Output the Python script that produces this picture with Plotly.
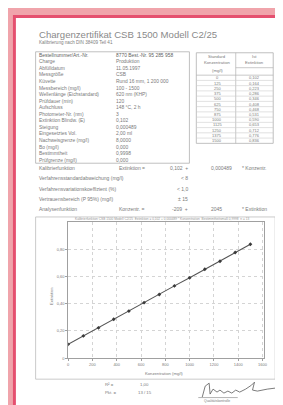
import plotly.graph_objects as go

W, H = 283, 405

# ---------------- data ----------------
konzentration = [0, 125, 250, 375, 500, 625, 750, 875, 1000, 1125, 1250, 1375, 1500]
extinktion = [0.102, 0.164, 0.223, 0.286, 0.346, 0.408, 0.468, 0.531, 0.590, 0.653, 0.712, 0.776, 0.836]
x_ticks = [0, 200, 400, 600, 800, 1000, 1200, 1400, 1600]
y_ticks = [0, 0.2, 0.4, 0.6, 0.8]
y_ticktext = ["0", "0,20", "0,40", "0,60", "0,80"]

info_labels = ["Bestellnummer/Art.-Nr.", "Charge", "Abfülldatum", "Messgröße", "Küvette",
               "Messbereich (mg/l)", "Wellenlänge (Eichstandard)", "Prüfdauer (min)", "Aufschluss",
               "Photometer-Nr. (nm)", "Extinktion Blindw. (E)", "Steigung", "Eingesetztes Vol.",
               "Nachweisgrenze (mg/l)", "Bo (mg/l)", "Bestimmtheit", "Prüfgrenze (mg/l)"]
info_values = ["8770 Best.-Nr. 95 285 958", "Produktion", "11.05.1997", "CSB",
               "Rund 16 mm, 1 200 000", "100 - 1500", "620 nm (KHP)", "120",
               "148 °C, 2 h", "3", "0,102", "0,000489", "2,00 ml", "8,0000", "0,000",
               "0,9998", "0,000"]

calib_rows = [
    ["Kalibrierfunktion", "Extinktion =", "0,102  +", "0,000489", "* Konzentr."],
    ["Verfahrensstandardabweichung (mg/l)", "", "< 8", "", ""],
    ["Verfahrensvariationskoeffizient (%)", "", "< 1,0", "", ""],
    ["Vertrauensbereich (P 95%) (mg/l)", "", "± 15", "", ""],
    ["Analysenfunktion", "Konzentr. =", "-209  +", "2045", "* Extinktion"],
]

# ---------------- helpers ----------------
def X(p):
    return p / W

def Y(p):
    return 1 - p / H

GREY = "#7a7a7a"
annotations = []
shapes = []

def txt(x, y, s, size=5.0, color=GREY, anchor="left", angle=0):
    annotations.append(dict(x=X(x), y=Y(y), xref="paper", yref="paper", text=s,
                            showarrow=False, xanchor=anchor, yanchor="middle",
                            textangle=angle,
                            font=dict(size=size, color=color, family="Liberation Sans")))

def rect(x0, y0, x1, y1, fill=None, line="#9a9a9a", lw=0.8, layer="below"):
    shapes.append(dict(type="rect", xref="paper", yref="paper",
                       x0=X(x0), x1=X(x1), y0=Y(y1), y1=Y(y0),
                       fillcolor=fill if fill else "rgba(0,0,0,0)",
                       line=dict(color=line, width=lw), layer=layer))

def hline(x0, x1, y, color="#b0b0b0", lw=0.7):
    shapes.append(dict(type="line", xref="paper", yref="paper", x0=X(x0), x1=X(x1),
                       y0=Y(y), y1=Y(y), line=dict(color=color, width=lw), layer="below"))

def vline(x, y0, y1, color="#b0b0b0", lw=0.7):
    shapes.append(dict(type="line", xref="paper", yref="paper", x0=X(x), x1=X(x),
                       y0=Y(y0), y1=Y(y1), line=dict(color=color, width=lw), layer="below"))

# ---------------- page ----------------
rect(4, 7, W + 10, H + 10, fill="#e5506f", line="#e5506f", lw=0)
rect(7, 10, W + 10, H + 10, fill="#ffffff", line="#ffffff", lw=0)

# title
txt(28, 27, "Chargenzertifikat CSB 1500 Modell C2/25", size=9.6, color="#8a8a8a")
txt(28, 35, "Kalibrierung nach DIN 38409 Teil 41", size=4.6, color="#7e7e7e")

# left info table
rect(27, 44, 183, 156, line="#b0b0b0", lw=0.8)
n = len(info_labels)
for i in range(n):
    yy = 47.5 + i * (153 - 47.5) / (n - 1)
    c = "#606060" if i == 0 else GREY
    txt(28.5, yy, info_labels[i], size=4.9, color=c)
    txt(106.5, yy, info_values[i], size=4.9, color=c)

# right standard table
rect(190, 45, 268, 136, line="#b0b0b0", lw=0.8)
vline(230, 45, 136, color="#b0b0b0")
hline(190, 268, 67.5, color="#b0b0b0")
txt(211, 49, "Standard", size=4.2, anchor="center")
txt(211, 55, "Konzentration", size=4.2, anchor="center")
txt(211, 63, "(mg/l)", size=4.2, anchor="center")
txt(249, 49, "Ist", size=4.2, anchor="center")
txt(249, 55, "Extinktion", size=4.2, anchor="center")
hline(230, 268, 60, color="#b0b0b0")
nrow = len(konzentration)
rh = (136 - 67.5) / nrow
for i in range(nrow):
    yc = 67.5 + (i + 0.5) * rh
    if i > 0:
        hline(190, 268, 67.5 + i * rh, color="#cccccc", lw=0.6)
    txt(211, yc, str(konzentration[i]), size=4.0, anchor="center")
    txt(249, yc, ("%.3f" % extinktion[i]).replace(".", ","), size=4.0, anchor="center")

# calibration text block
cols = [28, 110, 184, 203, 234]
for r, row in enumerate(calib_rows):
    yy = 161 + r * 10.2
    for c, s in enumerate(row):
        if not s:
            continue
        if c == 2:
            txt(cols[c], yy, s, size=5.0, anchor="right")
        else:
            txt(cols[c], yy, s, size=5.0)

# chart frame
rect(27, 210, 270, 373, line="#bcbcbc", lw=0.8)
txt(155, 212, "Kalibrierfunktion CSB 1500 Modell C2/25  Extinktion = 0,102 + 0,000489 * Konzentration  "
              "Bestimmtheitsmaß 0,9998  n = 13", size=3.2, color="#959595", anchor="center")
txt(43, 290, "Extinktion", size=4.0, anchor="center", angle=-90)
txt(157, 367, "Konzentration (mg/l)", size=4.2, anchor="center")

# bottom notes
txt(95, 378, "R² =", size=4.3)
txt(131, 378, "1,00", size=4.3)
txt(95, 386, "Pkt. =", size=4.3)
txt(129, 386, "13 / 15", size=4.3)

# signature (decorative path)
sig = [(196, 391), (199, 380), (203, 377), (204, 388), (207, 383), (211, 386), (214, 384),
       (218, 387), (222, 385), (226, 387), (230, 384), (234, 386), (240, 383), (246, 379),
       (249, 376), (247, 384), (252, 385), (262, 383), (270, 382)]
path = "M " + " L ".join("%.4f,%.4f" % (X(a), Y(b)) for a, b in sig)
shapes.append(dict(type="path", xref="paper", yref="paper", path=path,
                   line=dict(color="#5a5a5a", width=0.8), layer="above"))
hline(192, 232, 391.5, color="#808080", lw=0.6)
txt(211, 395, "Qualitätskontrolle", size=3.4, anchor="center", color="#7a7a7a")

# ---------------- figure ----------------
fig = go.Figure()
fig.add_trace(go.Scatter(
    x=konzentration, y=extinktion, mode="lines+markers",
    line=dict(color="#555555", width=1.1),
    marker=dict(symbol="diamond", size=3, color="#3a3a3a"),
    showlegend=False, hoverinfo="skip"))

fig.update_layout(
    width=W, height=H, autosize=False,
    margin=dict(l=0, r=0, t=0, b=0),
    paper_bgcolor="#f0a4ab", plot_bgcolor="#ffffff",
    shapes=shapes, annotations=annotations,
    xaxis=dict(domain=[X(60), X(259)], range=[0, 1615], tickvals=x_ticks,
               ticktext=[str(v) for v in x_ticks],
               tickfont=dict(size=4, color=GREY, family="Liberation Sans"),
               showgrid=True, gridcolor="#d4d4d4", gridwidth=0.6, griddash="dot",
               showline=True, linecolor="#a0a0a0", linewidth=0.8, mirror=True,
               ticks="outside", ticklen=2, tickcolor="#a0a0a0", zeroline=False),
    yaxis=dict(domain=[Y(352), Y(215)], range=[0, 1.0], tickvals=y_ticks,
               ticktext=y_ticktext,
               tickfont=dict(size=4, color=GREY, family="Liberation Sans"),
               showgrid=True, gridcolor="#d4d4d4", gridwidth=0.6, griddash="dot",
               showline=True, linecolor="#a0a0a0", linewidth=0.8, mirror=True,
               ticks="outside", ticklen=2, tickcolor="#a0a0a0", zeroline=False),
)

fig.write_html("out.html")
